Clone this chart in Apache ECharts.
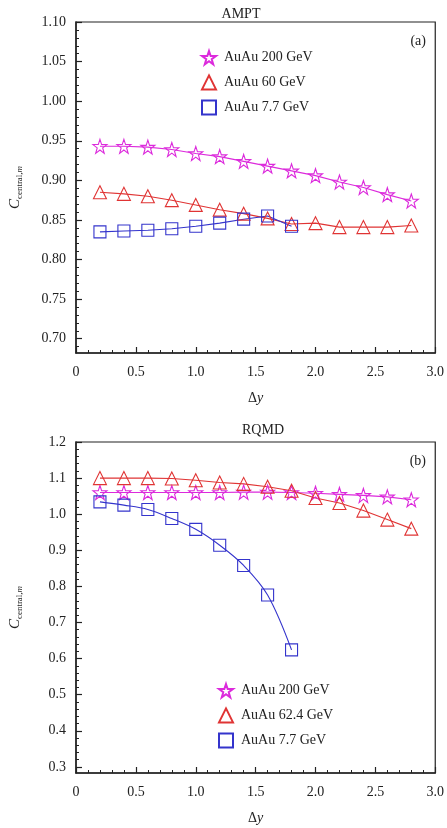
<!DOCTYPE html>
<html><head><meta charset="utf-8">
<script src="https://cdn.jsdelivr.net/npm/echarts@6/dist/echarts.min.js"></script>
<style>html,body{margin:0;padding:0;background:#fff}#c{width:447px;height:828px}</style>
</head><body><div id="c"></div>
<script>
// ---- data ----
const xTicks = [0, 0.5, 1.0, 1.5, 2.0, 2.5, 3.0];
const yTicksA = [0.70, 0.75, 0.80, 0.85, 0.90, 0.95, 1.00, 1.05, 1.10];
const yTicksB = [0.3, 0.4, 0.5, 0.6, 0.7, 0.8, 0.9, 1.0, 1.1, 1.2];

const dyLong = [0.2, 0.4, 0.6, 0.8, 1.0, 1.2, 1.4, 1.6, 1.8, 2.0, 2.2, 2.4, 2.6, 2.8];
const dyShort = [0.2, 0.4, 0.6, 0.8, 1.0, 1.2, 1.4, 1.6, 1.8];

// AMPT panel (a)
const amptAu200 = [0.943, 0.943, 0.942, 0.939, 0.934, 0.930, 0.924, 0.918, 0.912, 0.906, 0.898, 0.891, 0.882, 0.874];
const amptAu60  = [0.885, 0.883, 0.880, 0.875, 0.869, 0.863, 0.858, 0.852, 0.845, 0.846, 0.841, 0.841, 0.841, 0.843];
const amptAu77  = [0.835, 0.836, 0.837, 0.839, 0.842, 0.846, 0.851, 0.855, 0.842];

// RQMD panel (b)
const rqmdAu200 = [1.060, 1.060, 1.060, 1.060, 1.060, 1.060, 1.061, 1.061, 1.060, 1.058, 1.055, 1.052, 1.048, 1.040];
const rqmdAu624 = [1.100, 1.100, 1.100, 1.099, 1.094, 1.088, 1.084, 1.076, 1.065, 1.045, 1.031, 1.010, 0.985, 0.960];
const rqmdAu77  = [1.034, 1.025, 1.013, 0.988, 0.958, 0.914, 0.858, 0.776, 0.624];

const namesA = ['AuAu 200 GeV', 'AuAu 60 GeV', 'AuAu 7.7 GeV'];
const namesB = ['AuAu 200 GeV ', 'AuAu 62.4 GeV', 'AuAu 7.7 GeV '];

// ---- styling ----
const FONT = '"Liberation Serif", "DejaVu Serif", serif';
const C200 = '#dc2adc', C60 = '#e03434', C77 = '#3434cc';
const STAR = 'path://M50,4 L61,37 L96,37 L68,58 L78,92 L50,71 L22,92 L32,58 L4,37 L39,37 Z';
const AX = '#222';

const pairs = (xs, ys) => ys.map((v, i) => [xs[i], v]);
function range(a, b, step) { const r = []; for (let v = a; v <= b + 1e-9; v += step) r.push(+v.toFixed(4)); return r; }
const minorA = range(0.69, 1.10, 0.01).filter(v => !yTicksA.some(t => Math.abs(t - v) < 1e-6));
const minorB = range(0.30, 1.20, 0.02).filter(v => !yTicksB.some(t => Math.abs(t - v) < 1e-6));

const grids = [
  { left: 73, right: 9, top: 22, height: 331, show: true, borderColor: AX, borderWidth: 1.2, backgroundColor: 'transparent' },
  { left: 73, right: 9, top: 442, height: 331, show: true, borderColor: AX, borderWidth: 1.2, backgroundColor: 'transparent' }
];

function xAxis(gi) {
  return {
    type: 'value', gridIndex: gi, min: 0, max: 3.0, interval: 0.5,
    name: '{d|Δ}{y|y}', nameLocation: 'middle', nameGap: 38,
    nameTextStyle: { rich: { d: { fontFamily: FONT, fontSize: 14, color: '#222' }, y: { fontFamily: FONT, fontSize: 14, fontStyle: 'italic', color: '#222' } } },
    axisLine: { show: true, lineStyle: { color: AX, width: 1.5 } },
    axisTick: { show: true, inside: true, length: 6, lineStyle: { color: AX, width: 1.2 } },
    minorTick: { show: true, splitNumber: 5, length: 3, lineStyle: { color: AX, width: 1 } },
    splitLine: { show: false },
    axisLabel: { margin: 12, fontFamily: FONT, fontSize: 14, color: '#222', formatter: v => v === 0 ? '0' : v.toFixed(1) }
  };
}
const yName = '{c|C}{s|central,}{m|m}';
const yNameRich = {
  c: { fontFamily: FONT, fontSize: 15, fontStyle: 'italic', color: '#222' },
  s: { fontFamily: FONT, fontSize: 9, color: '#222', padding: [8, 0, 0, 0] },
  m: { fontFamily: FONT, fontSize: 9, fontStyle: 'italic', color: '#222', padding: [8, 0, 0, 0] }
};
function yMain(gi, min, max, ticks, dec) {
  return {
    type: 'value', gridIndex: gi, min: min, max: max,
    name: yName, nameLocation: 'middle', nameGap: 52, nameRotate: 90,
    nameTextStyle: { rich: yNameRich },
    axisLine: { show: true, lineStyle: { color: AX, width: 1.5 } },
    axisTick: { show: true, inside: true, length: 6, customValues: ticks, lineStyle: { color: AX, width: 1.2 } },
    splitLine: { show: false },
    axisLabel: { margin: 10, customValues: ticks, fontFamily: FONT, fontSize: 14, color: '#222', formatter: v => v.toFixed(dec) }
  };
}
function yMinor(gi, min, max, ticks) {
  return {
    type: 'value', gridIndex: gi, min: min, max: max, position: 'left',
    axisLine: { show: false },
    axisTick: { show: true, inside: true, length: 3, customValues: ticks, lineStyle: { color: AX, width: 1 } },
    splitLine: { show: false },
    axisLabel: { show: false }
  };
}

function series(name, xi, yi, xs, ys, color, symbol, size, smooth) {
  return {
    name: name, type: 'line', xAxisIndex: xi, yAxisIndex: yi,
    data: pairs(xs, ys), symbol: symbol, symbolSize: size, showSymbol: true, smooth: smooth || false,
    lineStyle: { color: color, width: 1.1 },
    itemStyle: { color: 'rgba(255,255,255,0)', borderColor: color, borderWidth: 1.1 },
    emphasis: { disabled: true }, animation: false, z: 3
  };
}

const legendText = { fontFamily: FONT, fontSize: 14, color: '#222', padding: [0, 0, 0, 3] };
const tStyle = { fontFamily: FONT, fontSize: 14, fontWeight: 'normal', color: '#222' };

const option = {
  animation: false,
  title: [
    { text: 'AMPT', top: 2, left: 236, textAlign: 'center', textStyle: tStyle },
    { text: '(a)', top: 29, right: 16, textStyle: tStyle },
    { text: 'RQMD', top: 418, left: 258, textAlign: 'center', textStyle: tStyle },
    { text: '(b)', top: 449, right: 16, textStyle: tStyle }
  ],
  legend: [
    { orient: 'vertical', left: 196, top: 45, itemGap: 9, itemWidth: 14, itemHeight: 14, textStyle: legendText,
      data: [{ name: namesA[0], icon: STAR }, { name: namesA[1], icon: 'triangle' }, { name: namesA[2], icon: 'rect' }] },
    { orient: 'vertical', left: 213, top: 678, itemGap: 9, itemWidth: 14, itemHeight: 14, textStyle: legendText,
      data: [{ name: namesB[0], icon: STAR }, { name: namesB[1], icon: 'triangle' }, { name: namesB[2], icon: 'rect' }] }
  ],
  grid: grids,
  xAxis: [xAxis(0), xAxis(1)],
  yAxis: [
    yMain(0, 0.682, 1.10, yTicksA, 2), yMinor(0, 0.682, 1.10, minorA),
    yMain(1, 0.283, 1.20, yTicksB, 1), yMinor(1, 0.283, 1.20, minorB)
  ],
  series: [
    series(namesA[0], 0, 0, dyLong, amptAu200, C200, STAR, 14),
    series(namesA[1], 0, 0, dyLong, amptAu60, C60, 'triangle', 13),
    series(namesA[2], 0, 0, dyShort, amptAu77, C77, 'rect', 12),
    series(namesB[0], 1, 2, dyLong, rqmdAu200, C200, STAR, 14),
    series(namesB[1], 1, 2, dyLong, rqmdAu624, C60, 'triangle', 13),
    series(namesB[2], 1, 2, dyShort, rqmdAu77, C77, 'rect', 12, 0.35)
  ]
};
const chart = echarts.init(document.getElementById('c'), null, { renderer: 'canvas' });
chart.setOption(option);
</script></body></html>
